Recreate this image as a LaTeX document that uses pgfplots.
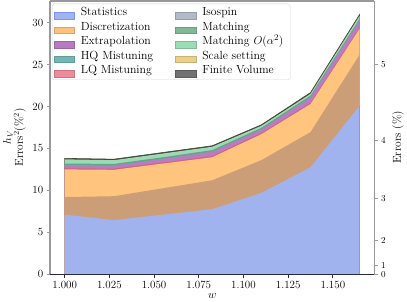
\documentclass[border=0pt]{standalone}
\usepackage{pgfplots}
\pgfplotsset{compat=1.18}
\definecolor{cblue}{HTML}{A0B3EE}
\definecolor{cblueedge}{HTML}{7F9AEA}
\definecolor{cbrown}{HTML}{CC9E78}
\definecolor{corange}{HTML}{FFC47E}
\definecolor{cred}{HTML}{D8607E}
\definecolor{cpurple}{HTML}{B87CC0}
\definecolor{cteal}{HTML}{5AAA88}
\definecolor{cgreen}{HTML}{9DDAB3}
\definecolor{ctop}{HTML}{454535}
\definecolor{spine}{HTML}{999999}
\definecolor{navyline}{HTML}{2A2A45}
\definecolor{lgedge}{HTML}{D5D5D5}
% legend colours
\definecolor{lstat}{HTML}{A0B4F0}
\definecolor{ldisc}{HTML}{FFC27E}
\definecolor{lextr}{HTML}{B87AC0}
\definecolor{lhq}{HTML}{72B8B0}
\definecolor{llq}{HTML}{F08A9A}
\definecolor{liso}{HTML}{B2BAC8}
\definecolor{lmat}{HTML}{82B898}
\definecolor{lmato}{HTML}{9ADCB4}
\definecolor{lscale}{HTML}{ECD08A}
\definecolor{lfv}{HTML}{727272}
\begin{document}
\begin{tikzpicture}
\begin{axis}[name=main,
  scale only axis, width=337.7bp, height=284.3bp,
  xmin=0.99175, xmax=1.17325, ymin=0, ymax=32.6,
  axis on top,
  axis x line*=bottom, axis y line*=left,
  x axis line style={color=navyline, line width=1bp, -},
  y axis line style={color=spine, line width=1.6bp, -},
  tick align=outside, major tick length=3.5bp,
  x tick style={color=navyline, line width=0.8bp},
  y tick style={color=spine, line width=0.8bp},
  xtick={1.000,1.025,1.050,1.075,1.100,1.125,1.150},
  xticklabels={1.000,1.025,1.050,1.075,1.100,1.125,1.150},
  ytick={0,5,10,15,20,25,30},
  yticklabels={0,5,10,15,20,25,30},
  tick label style={font=\fontsize{11.5}{12}\selectfont, color=black},
  xlabel={$w$},
  xlabel style={font=\fontsize{12}{12}\selectfont, yshift=2bp},
  ylabel={$h_V$\\Errors$^2$(\%$^2$)},
  ylabel style={align=center, font=\fontsize{12}{11}\selectfont},
  legend columns=2,
  legend image code/.code={\draw[sharp corners, #1] (0bp,-3.5bp) rectangle (21bp,3.5bp);},
  legend style={at={(0.006,0.99)}, anchor=north west, draw=lgedge, rounded corners=2bp,
    fill=white, font=\fontsize{12.3}{14}\selectfont, inner sep=2bp, column sep=5bp, row sep=0bp,
    nodes={inner sep=1.5bp, text height=9bp, text depth=3bp, anchor=base west}},
]
% stacked layers, drawn from the top down
\addplot[fill=ctop, draw=ctop, line width=0.6bp, forget plot] coordinates {
(1.0,13.82) (1.0275,13.72) (1.055,14.52) (1.0825,15.32) (1.11,17.82) (1.1375,21.67) (1.165,31.0)} \closedcycle;
\addplot[fill=cgreen, draw=none, forget plot] coordinates {
(1.0,13.7) (1.0275,13.6) (1.055,14.4) (1.0825,15.2) (1.11,17.7) (1.1375,21.52) (1.165,30.85)} \closedcycle;
\addplot[fill=cteal, draw=none, forget plot] coordinates {
(1.0,13.2) (1.0275,13.15) (1.055,13.95) (1.0825,14.8) (1.11,17.45) (1.1375,21.3) (1.165,30.5)} \closedcycle;
\addplot[fill=cpurple, draw=none, forget plot] coordinates {
(1.0,13.03) (1.0275,12.98) (1.055,13.78) (1.0825,14.63) (1.11,17.28) (1.1375,21.13) (1.165,30.33)} \closedcycle;
\addplot[fill=cred, draw=none, forget plot] coordinates {
(1.0,12.64) (1.0275,12.59) (1.055,13.34) (1.0825,14.09) (1.11,16.84) (1.1375,20.44) (1.165,29.44)} \closedcycle;
\addplot[fill=corange, draw=none, forget plot] coordinates {
(1.0,12.5) (1.0275,12.45) (1.055,13.2) (1.0825,13.95) (1.11,16.7) (1.1375,20.3) (1.165,29.3)} \closedcycle;
\addplot[fill=cbrown, draw=none, forget plot] coordinates {
(1.0,9.2) (1.0275,9.3) (1.055,10.25) (1.0825,11.2) (1.11,13.6) (1.1375,16.95) (1.165,26.2)} \closedcycle;
\addplot[fill=cblue, draw=none, forget plot] coordinates {
(1.0,7.1) (1.0275,6.45) (1.055,7.1) (1.0825,7.75) (1.11,9.7) (1.1375,12.75) (1.165,20.1)} \closedcycle;
\addplot[cblueedge, line width=0.8bp, forget plot] coordinates {(1.165,0) (1.165,20.1)};
\draw[spine, line width=1.6bp] (rel axis cs:0,1) -- (rel axis cs:1,1);
% legend (row-major order for two columns)
\addlegendimage{fill=lstat, draw=lstat!80!blue}
\addlegendentry{\makebox[92bp][l]{Statistics}}
\addlegendimage{fill=liso, draw=liso!85!black}
\addlegendentry{\makebox[88bp][l]{Isospin}}
\addlegendimage{fill=ldisc, draw=ldisc!85!black}
\addlegendentry{\makebox[92bp][l]{Discretization}}
\addlegendimage{fill=lmat, draw=lmat!85!black}
\addlegendentry{\makebox[88bp][l]{Matching}}
\addlegendimage{fill=lextr, draw=lextr!85!black}
\addlegendentry{\makebox[92bp][l]{Extrapolation}}
\addlegendimage{fill=lmato, draw=lmato!85!black}
\addlegendentry{\makebox[88bp][l]{Matching $O(\alpha^2)$}}
\addlegendimage{fill=lhq, draw=lhq!85!black}
\addlegendentry{\makebox[92bp][l]{HQ Mistuning}}
\addlegendimage{fill=lscale, draw=lscale!85!black}
\addlegendentry{\makebox[88bp][l]{Scale setting}}
\addlegendimage{fill=llq, draw=llq!85!black}
\addlegendentry{\makebox[92bp][l]{LQ Mistuning}}
\addlegendimage{fill=lfv, draw=lfv!80!black}
\addlegendentry{\makebox[88bp][l]{Finite Volume}}
\end{axis}
\begin{axis}[
  scale only axis, width=337.7bp, height=284.3bp,
  xmin=0.99175, xmax=1.17325, ymin=0, ymax=32.6,
  axis x line=none, axis y line*=right,
  y axis line style={color=spine, line width=1.6bp, -},
  tick align=outside, major tick length=3.5bp,
  y tick style={color=spine, line width=0.8bp},
  ytick={0,1,4,9,16,25},
  yticklabels={0,1,2,3,4,5},
  tick label style={font=\fontsize{9.5}{10}\selectfont, color=black, inner ysep=0bp},
  ylabel={Errors (\%)},
  ylabel style={font=\fontsize{12}{12}\selectfont},
]
\end{axis}
\path ([xshift=-44bp,yshift=-23.7bp]main.south west) rectangle ([xshift=25.3bp,yshift=1bp]main.north east);
\end{tikzpicture}
\end{document}
